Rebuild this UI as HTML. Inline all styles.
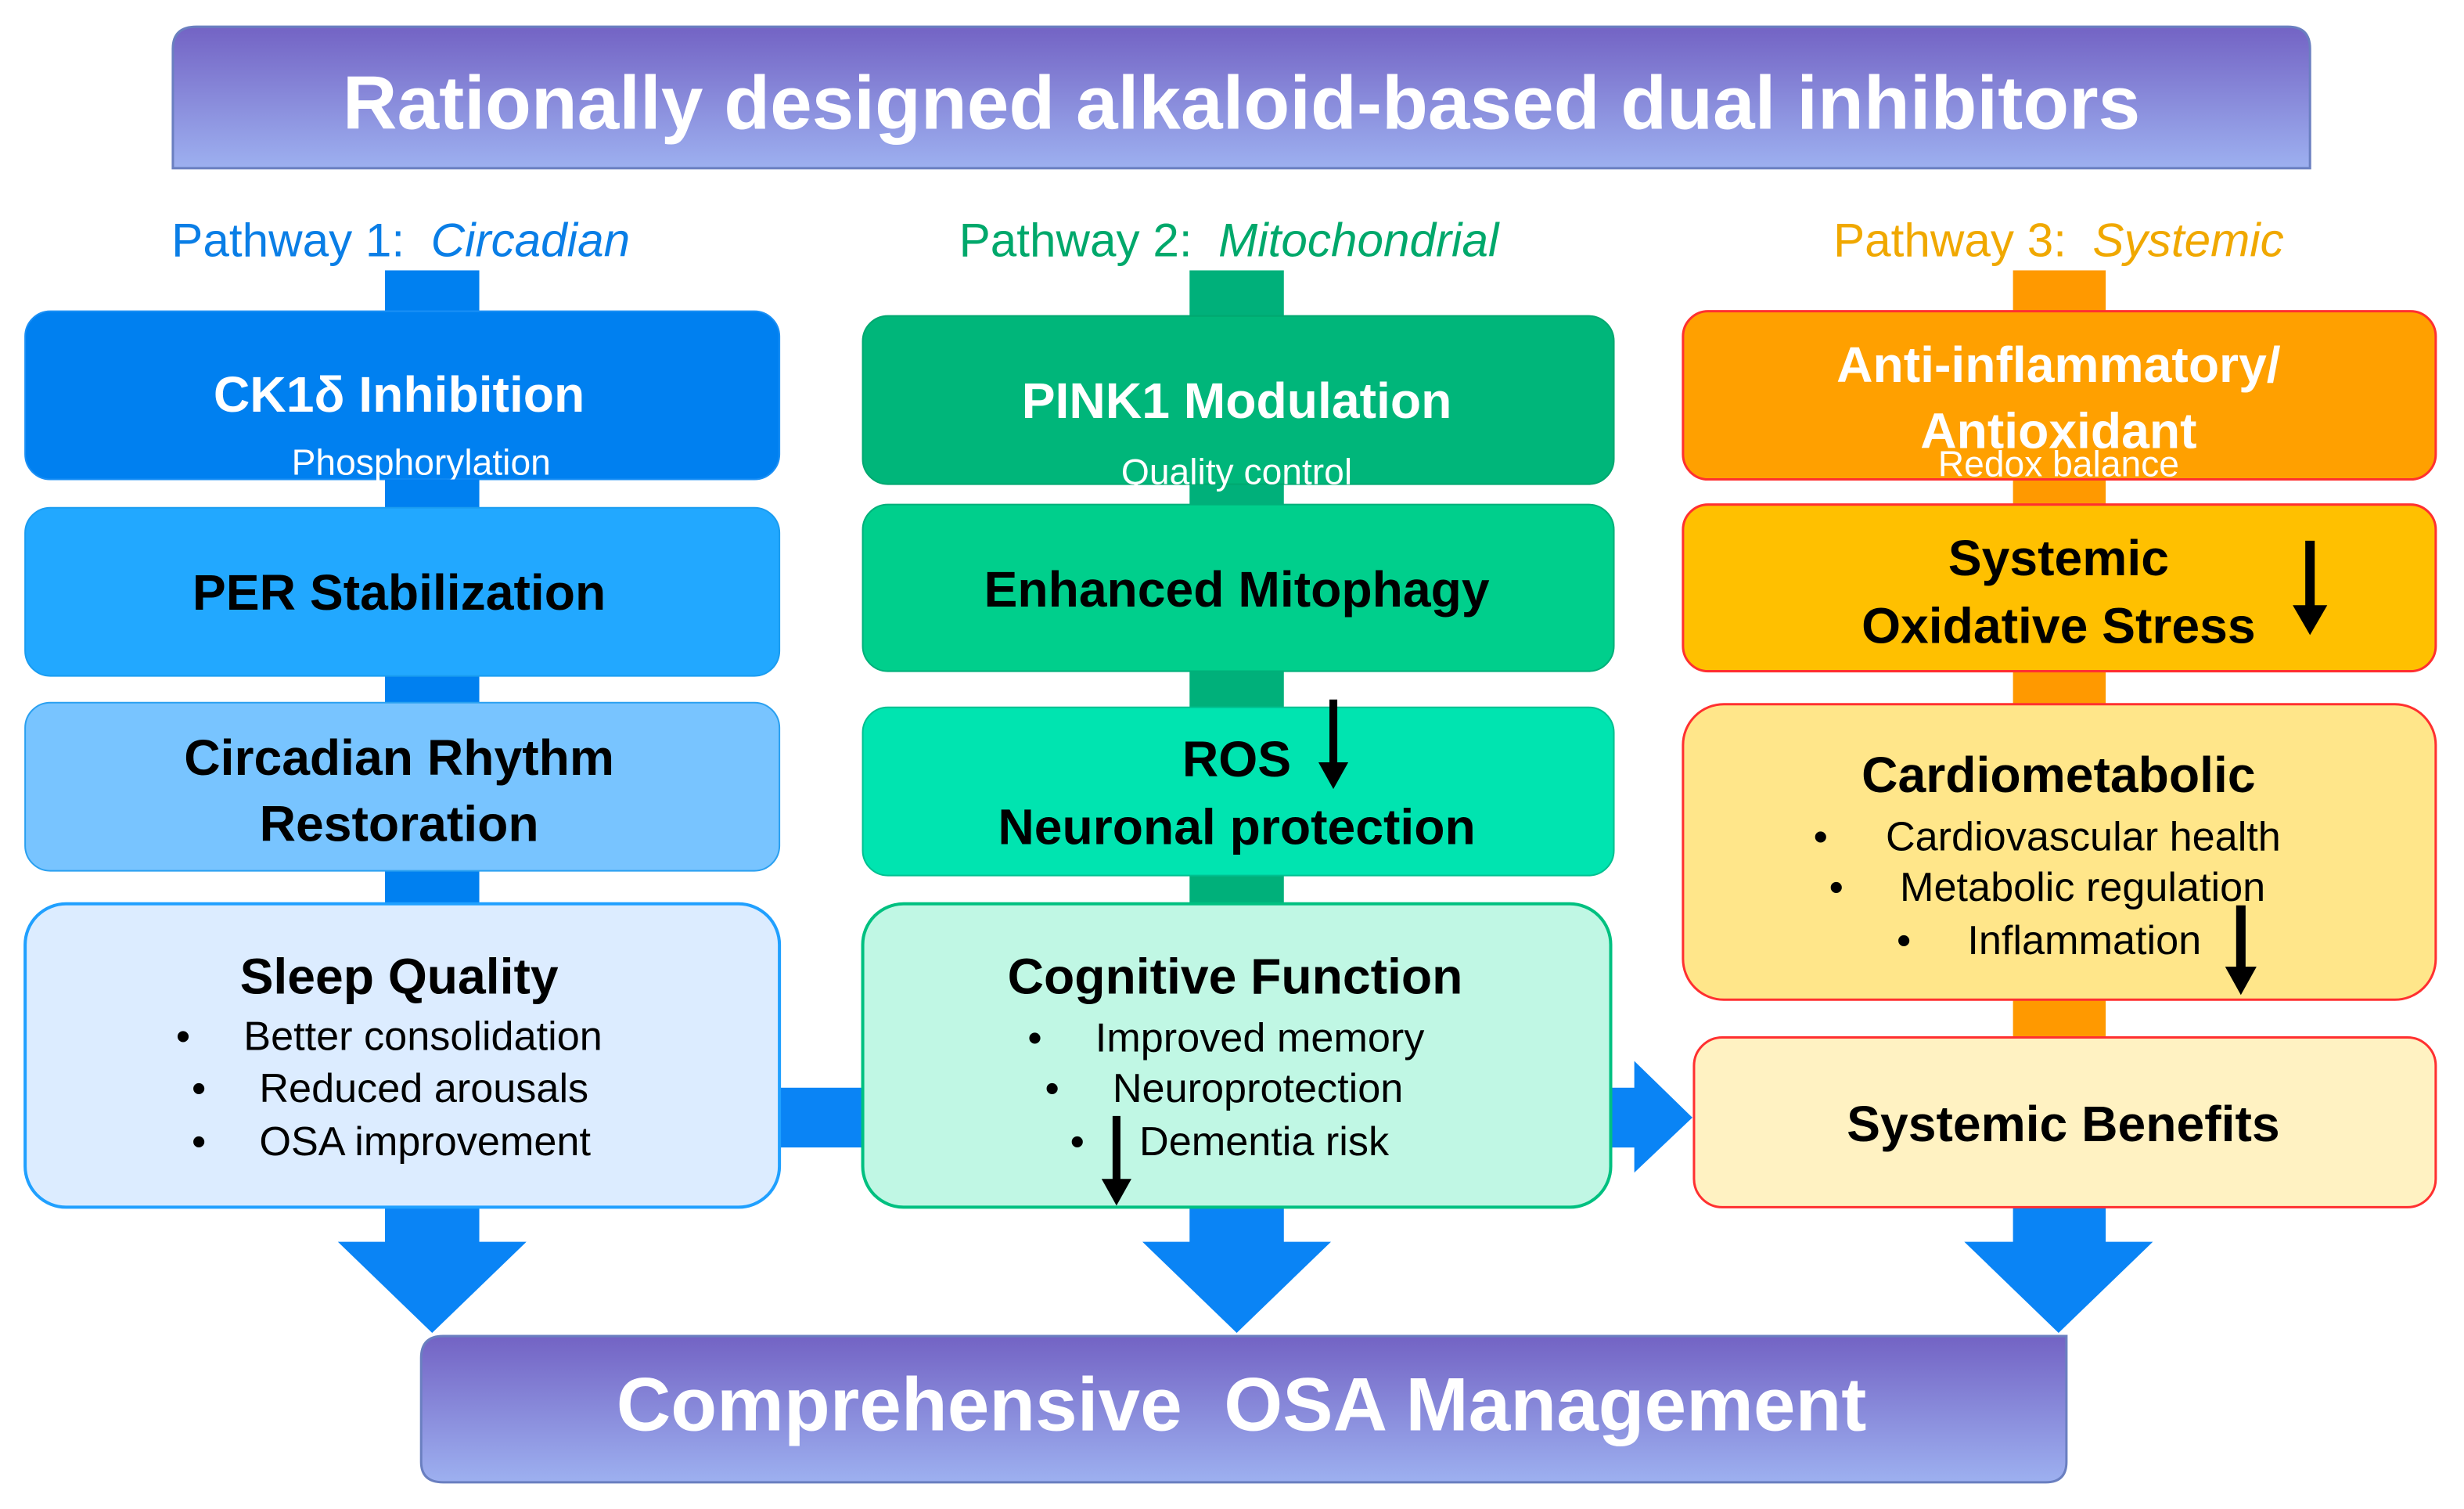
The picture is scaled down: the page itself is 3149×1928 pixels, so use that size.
<!DOCTYPE html>
<html><head><meta charset="utf-8"><style>html,body{margin:0;padding:0;background:#fff}svg{display:block}</style></head>
<body>
<svg width="3149" height="1928" viewBox="0 0 1568 960" xmlns="http://www.w3.org/2000/svg" font-family="Liberation Sans, Arial, sans-serif">
<defs>
<linearGradient id="pg" x1="0" y1="0" x2="0" y2="1"><stop offset="0" stop-color="#7363c4"/><stop offset="1" stop-color="#9db0f0"/></linearGradient>
</defs>
<rect width="1568" height="960" fill="#fff"/>
<path d="M125,17 H1456 Q1470,17 1470,31 V107 H110 V31 Q110,17 125,17 Z" fill="url(#pg)" stroke="#6a7fc0" stroke-width="1.5"/>
<text x="790" y="82" text-anchor="middle" font-size="48" font-weight="bold" fill="#fff">Rationally designed alkaloid-based dual inhibitors</text>
<text x="255" y="163" text-anchor="middle" font-size="30" fill="#0a7ee6" xml:space="preserve">Pathway 1:  <tspan font-style="italic">Circadian</tspan></text>
<text x="782" y="163" text-anchor="middle" font-size="30" fill="#00a86b" xml:space="preserve">Pathway 2:  <tspan font-style="italic">Mitochondrial</tspan></text>
<text x="1310" y="163" text-anchor="middle" font-size="30" fill="#f0a800" xml:space="preserve">Pathway 3:  <tspan font-style="italic">Systemic</tspan></text>
<rect x="245" y="172" width="60" height="420" fill="#0080f0"/>
<rect x="757" y="172" width="60" height="420" fill="#00b07a"/>
<rect x="1281" y="172" width="59" height="500" fill="#ff9900"/>
<rect x="490" y="692" width="65" height="38" fill="#0a84f5"/>
<path d="M1020,692 H1040 V675 L1077,711 L1040,746 V730 H1020 Z" fill="#0a84f5"/>
<path d="M245,765 H305 V790 H335 L275,848 L215,790 H245 Z" fill="#0a84f5"/>
<path d="M757,765 H817 V790 H847 L787,848 L727,790 H757 Z" fill="#0a84f5"/>
<path d="M1281,765 H1340 V790 H1370 L1310,848 L1250,790 H1281 Z" fill="#0a84f5"/>
<rect x="16" y="198" width="480" height="107" rx="16" fill="#0080f0" stroke="#1a8ff5"/>
<text x="254" y="262" text-anchor="middle" font-size="32" font-weight="bold" fill="#fff">CK1δ Inhibition</text>
<text x="268" y="302" text-anchor="middle" font-size="23" fill="#fff">Phosphorylation</text>
<rect x="245" y="305" width="60" height="18" fill="#0080f0"/>
<rect x="16" y="323" width="480" height="107" rx="16" fill="#22a8ff" stroke="#1a9cf0"/>
<text x="254" y="388" text-anchor="middle" font-size="32" font-weight="bold" fill="#000">PER Stabilization</text>
<rect x="16" y="447" width="480" height="107" rx="16" fill="#78c4ff" stroke="#2aa0f0"/>
<text x="254" y="493" text-anchor="middle" font-size="32" font-weight="bold" fill="#000">Circadian Rhythm</text>
<text x="254" y="535" text-anchor="middle" font-size="32" font-weight="bold" fill="#000">Restoration</text>
<rect x="16" y="575" width="480" height="193" rx="26" fill="#dcecff" stroke="#20a0ff" stroke-width="2"/>
<text x="254" y="632" text-anchor="middle" font-size="32" font-weight="bold" fill="#000">Sleep Quality</text>
<g font-size="26" fill="#000">
<text x="112" y="668">•</text><text x="155" y="668">Better consolidation</text>
<text x="122" y="701">•</text><text x="165" y="701">Reduced arousals</text>
<text x="122" y="735">•</text><text x="165" y="735">OSA improvement</text>
</g>
<rect x="549" y="201" width="478" height="107" rx="16" fill="#00b67a" stroke="#00a870"/>
<text x="787" y="266" text-anchor="middle" font-size="32" font-weight="bold" fill="#fff">PINK1 Modulation</text>
<text x="787" y="308" text-anchor="middle" font-size="23" fill="#fff">Quality control</text>
<rect x="549" y="321" width="478" height="106" rx="16" fill="#00cf8c" stroke="#00b07a"/>
<text x="787" y="386" text-anchor="middle" font-size="32" font-weight="bold" fill="#000">Enhanced Mitophagy</text>
<rect x="549" y="450" width="478" height="107" rx="16" fill="#00e4b0" stroke="#00c090"/>
<text x="787" y="494" text-anchor="middle" font-size="32" font-weight="bold" fill="#000">ROS</text>
<text x="787" y="537" text-anchor="middle" font-size="32" font-weight="bold" fill="#000">Neuronal protection</text>
<path d="M846,445 H851 V485 H858 L848.5,502 L839,485 H846 Z" fill="#000"/>
<rect x="549" y="575" width="476" height="193" rx="26" fill="#c0f7e4" stroke="#00c080" stroke-width="2"/>
<text x="786" y="632" text-anchor="middle" font-size="32" font-weight="bold" fill="#000">Cognitive Function</text>
<g font-size="26" fill="#000">
<text x="654" y="669">•</text><text x="697" y="669">Improved memory</text>
<text x="665" y="701">•</text><text x="708" y="701">Neuroprotection</text>
<text x="681" y="735">•</text><text x="725" y="735">Dementia risk</text>
</g>
<path d="M708,710 H713 V750 H720 L710.5,767 L701,750 H708 Z" fill="#000"/>
<rect x="1071" y="198" width="479" height="107" rx="16" fill="#ffa000" stroke="#ff3030" stroke-width="1.5"/>
<text x="1310" y="243" text-anchor="middle" font-size="32" font-weight="bold" fill="#fff">Anti-inflammatory/</text>
<text x="1310" y="285" text-anchor="middle" font-size="32" font-weight="bold" fill="#fff">Antioxidant</text>
<text x="1310" y="303" text-anchor="middle" font-size="23" fill="#fff">Redox balance</text>
<rect x="1071" y="321" width="479" height="106" rx="16" fill="#ffc000" stroke="#ff3030" stroke-width="1.5"/>
<text x="1310" y="366" text-anchor="middle" font-size="32" font-weight="bold" fill="#000">Systemic</text>
<text x="1310" y="409" text-anchor="middle" font-size="32" font-weight="bold" fill="#000">Oxidative Stress</text>
<path d="M1467,344 H1473 V385 H1481 L1470,404 L1459,385 H1467 Z" fill="#000"/>
<rect x="1071" y="448" width="479" height="188" rx="26" fill="#ffe68a" stroke="#ff3030" stroke-width="1.5"/>
<text x="1310" y="504" text-anchor="middle" font-size="32" font-weight="bold" fill="#000">Cardiometabolic</text>
<g font-size="26" fill="#000">
<text x="1154" y="541">•</text><text x="1200" y="541">Cardiovascular health</text>
<text x="1164" y="573">•</text><text x="1209" y="573">Metabolic regulation</text>
<text x="1207" y="607">•</text><text x="1252" y="607">Inflammation</text>
</g>
<path d="M1423,576 H1429 V615 H1436 L1426,633 L1416,615 H1423 Z" fill="#000"/>
<rect x="1078" y="660" width="472" height="108" rx="18" fill="#fff2c2" stroke="#ff3030" stroke-width="1.5"/>
<text x="1313" y="726" text-anchor="middle" font-size="32" font-weight="bold" fill="#000">Systemic Benefits</text>
<path d="M282,850 H1315 V930 Q1315,943 1302,943 H282 Q268,943 268,930 V864 Q268,850 282,850 Z" fill="url(#pg)" stroke="#6a7fc0" stroke-width="1.5"/>
<text x="790" y="910" text-anchor="middle" font-size="48" font-weight="bold" fill="#fff" xml:space="preserve">Comprehensive  OSA Management</text>
</svg>
</body></html>
